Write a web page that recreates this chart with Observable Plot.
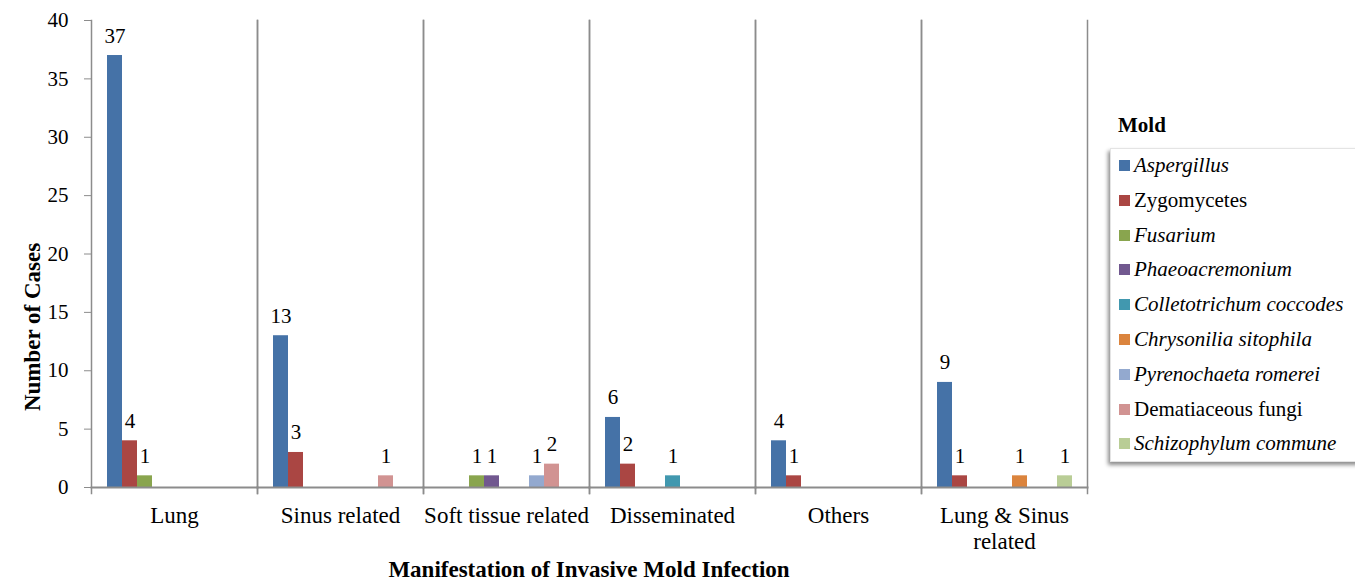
<!DOCTYPE html>
<html>
<head>
<meta charset="utf-8">
<script src="https://cdn.jsdelivr.net/npm/d3@7"></script>
<script src="https://cdn.jsdelivr.net/npm/@observablehq/plot@0.6"></script>
<style>
  html, body { margin: 0; padding: 0; background: #fff; }
  #wrap { position: relative; width: 1355px; height: 583px; overflow: hidden; font-family: "Liberation Serif", "Times New Roman", serif; color: #000; }
  #chart { position: absolute; left: 0; top: 0; }
  #ylabel { position: absolute; left: 32px; top: 327px; transform: translate(-50%, -50%) rotate(-90deg); font-weight: bold; font-size: 23px; line-height: 23px; white-space: nowrap; }
  #xlabel { position: absolute; left: 589px; top: 558px; transform: translateX(-50%); font-weight: bold; font-size: 23px; line-height: 23px; white-space: nowrap; }
  #legendTitle { position: absolute; left: 1118px; top: 115px; font-weight: bold; font-size: 21px; line-height: 21px; }
  #legend { position: absolute; left: 1110px; top: 148px; width: 250px; height: 312px; background: #fff; border: 1px solid #e4e4e4; box-shadow: -2px 3px 4px rgba(0,0,0,0.45); }
  .item { position: absolute; left: 8px; font-size: 21px; line-height: 22px; white-space: nowrap; }
  .sw { display: inline-block; width: 11px; height: 11px; margin-right: 4px; vertical-align: 1px; }
</style>
</head>
<body>
<div id="wrap">
  <div id="chart"></div>
  <div id="ylabel"></div>
  <div id="xlabel"></div>
  <div id="legendTitle"></div>
  <div id="legend"></div>
</div>
<script>
// ---- data ----
const groups = ["Lung", "Sinus related", "Soft tissue related", "Disseminated", "Others", "Lung & Sinus related"];
const groupTickLabels = ["Lung", "Sinus related", "Soft tissue related", "Disseminated", "Others", "Lung & Sinus\nrelated"];
const molds = ["Aspergillus", "Zygomycetes", "Fusarium", "Phaeoacremonium", "Colletotrichum coccodes", "Chrysonilia sitophila", "Pyrenochaeta romerei", "Dematiaceous fungi", "Schizophylum commune"];
const italicMolds = ["Aspergillus", "Fusarium", "Phaeoacremonium", "Colletotrichum coccodes", "Chrysonilia sitophila", "Pyrenochaeta romerei", "Schizophylum commune"];
const moldColors = ["#4572A7", "#AA4643", "#89A54E", "#71588F", "#4198AF", "#DB843D", "#93A9CF", "#D19392", "#B9CD96"];

const aspergillus      = [37, 13, 0, 6, 4, 9];
const zygomycetes      = [4, 3, 0, 2, 1, 1];
const fusarium         = [1, 0, 1, 0, 0, 0];
const phaeoacremonium  = [0, 0, 1, 0, 0, 0];
const colletotrichum   = [0, 0, 0, 1, 0, 0];
const chrysonilia      = [0, 0, 0, 0, 0, 1];
const pyrenochaeta     = [0, 0, 1, 0, 0, 0];
const dematiaceous     = [0, 1, 2, 0, 0, 0];
const schizophylum     = [0, 0, 0, 0, 0, 1];

const yTicks = [0, 5, 10, 15, 20, 25, 30, 35, 40];
const xTitle = "Manifestation of Invasive Mold Infection";
const yTitle = "Number of Cases";
const legendTitle = "Mold";

// ---- build table ----
const seriesValues = [aspergillus, zygomycetes, fusarium, phaeoacremonium, colletotrichum, chrysonilia, pyrenochaeta, dematiaceous, schizophylum];
const rows = [];
molds.forEach((m, i) => groups.forEach((g, j) => rows.push({group: g, mold: m, value: seriesValues[i][j]})));
const nonzero = rows.filter(d => d.value > 0);

const plot = Plot.plot({
  width: 1100,
  height: 583,
  marginLeft: 90,
  marginRight: 12,
  marginTop: 20,
  marginBottom: 96,
  style: {fontFamily: "'Liberation Serif', 'Times New Roman', serif", fontSize: "21px", color: "#000", background: "transparent", overflow: "visible"},
  fx: {domain: groups, padding: 0, label: null},
  x: {domain: molds, paddingInner: 0, paddingOuter: 0.7, axis: null},
  y: {domain: [0, 40], label: null},
  color: {domain: molds, range: moldColors},
  marks: [
    Plot.barY(nonzero, {fx: "group", x: "mold", y: "value", fill: "mold"}),
    Plot.text(nonzero, {fx: "group", x: "mold", y: "value", text: d => String(d.value), lineAnchor: "bottom", dy: -13, fontSize: 21, fill: "#000"}),
    Plot.frame({anchor: "left", stroke: "#8c8c8c", strokeWidth: 1.5, insetBottom: -6}),
    Plot.frame({anchor: "right", stroke: "#8c8c8c", strokeWidth: 1.5, insetBottom: -6}),
    Plot.frame({anchor: "bottom", stroke: "#8c8c8c", strokeWidth: 2}),
    Plot.axisY({ticks: yTicks, tickSize: 7, tickPadding: 16, fontSize: 21, stroke: "#8c8c8c", label: null}),
    Plot.axisFx({anchor: "bottom", tickSize: 0, tickPadding: 17, fontSize: 23, lineHeight: 1.13,
      tickFormat: g => groupTickLabels[groups.indexOf(g)], label: null})
  ]
});
document.getElementById("chart").appendChild(plot);
document.getElementById("xlabel").textContent = xTitle;
document.getElementById("ylabel").textContent = yTitle;
document.getElementById("legendTitle").textContent = legendTitle;

// ---- legend (HTML, colours from the plot's colour scale) ----
const colorScale = plot.scale("color");
const legend = document.getElementById("legend");
molds.forEach((m, i) => {
  const div = document.createElement("div");
  div.className = "item";
  div.style.top = (5 + i * 34.8) + "px";
  const sw = document.createElement("span");
  sw.className = "sw";
  sw.style.background = colorScale.apply(m);
  const t = document.createElement("span");
  t.textContent = m;
  if (italicMolds.includes(m)) t.style.fontStyle = "italic";
  div.appendChild(sw);
  div.appendChild(t);
  legend.appendChild(div);
});
</script>
</body>
</html>
